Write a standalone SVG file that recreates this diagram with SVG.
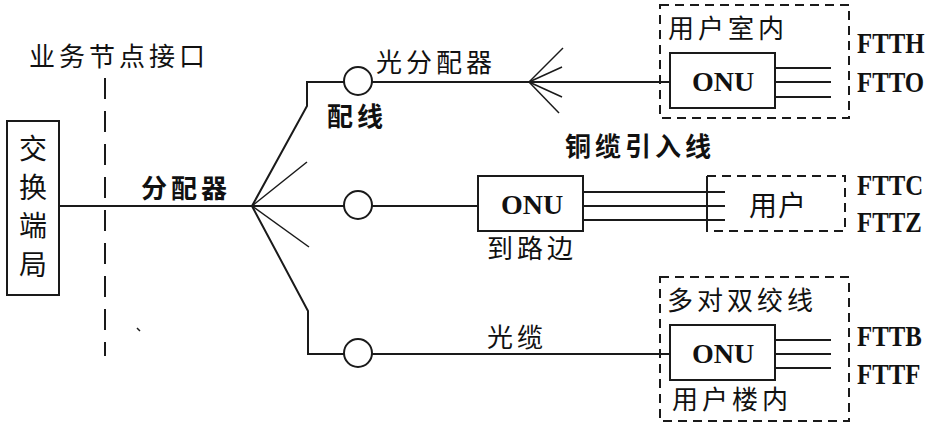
<svg xmlns="http://www.w3.org/2000/svg" width="933" height="429" viewBox="0 0 933 429">
<style>
.ln{stroke:#1a1a1a;stroke-width:2;fill:none}
.thin{stroke:#1a1a1a;stroke-width:1.5;fill:none}
.box{stroke:#1a1a1a;stroke-width:2;fill:#fff}
.dash{stroke:#1a1a1a;stroke-width:2;fill:none;stroke-dasharray:9 6}
.circ{stroke:#1a1a1a;stroke-width:2;fill:#fff}
.cjk{font-family:"Noto Sans CJK SC","Noto Sans",sans-serif;font-size:26px;letter-spacing:4px;fill:#111}
.b{font-weight:bold}
.lat{font-family:"Liberation Serif","Times New Roman",serif;font-weight:bold;fill:#111}
.ft{font-family:"Liberation Serif","Times New Roman",serif;font-weight:bold;fill:#111;font-size:27px}
</style>
<rect width="933" height="429" fill="#fff"/>
<g id="connectors">
<line class="ln" x1="105" y1="78" x2="105" y2="356" stroke-dasharray="21 12"/>
<line class="ln" x1="59" y1="206" x2="478" y2="206"/>
<polyline class="ln" points="252,206 307,106 307,82 670,82"/>
<polyline class="ln" points="252,206 308,311 308,354 670,354"/>
<line class="thin" x1="252" y1="206" x2="307" y2="162"/>
<line class="thin" x1="252" y1="206" x2="309" y2="247"/>
<line class="thin" x1="529" y1="82" x2="563" y2="48"/>
<line class="thin" x1="529" y1="82" x2="562" y2="67"/>
<line class="thin" x1="529" y1="82" x2="562" y2="97"/>
<line class="thin" x1="529" y1="82" x2="559" y2="113"/>
<line class="ln" x1="775" y1="68" x2="831" y2="68"/>
<line class="ln" x1="775" y1="82" x2="831" y2="82"/>
<line class="ln" x1="775" y1="97" x2="831" y2="97"/>
<line class="ln" x1="583" y1="192" x2="725" y2="192"/>
<line class="ln" x1="583" y1="206" x2="725" y2="206"/>
<line class="ln" x1="583" y1="220" x2="725" y2="220"/>
<line class="ln" x1="775" y1="340" x2="831" y2="340"/>
<line class="ln" x1="775" y1="354" x2="831" y2="354"/>
<line class="ln" x1="775" y1="368" x2="831" y2="368"/>
<line class="thin" x1="137" y1="328" x2="140" y2="331"/>
</g>
<g id="exchange">
<rect class="box" x="7" y="121" width="52" height="174"/>
<g class="cjk" style="letter-spacing:0;font-size:28px" text-anchor="middle">
<text x="33" y="159">交</text>
<text x="33" y="198">换</text>
<text x="33" y="236">端</text>
<text x="33" y="275">局</text>
</g>
</g>
<g id="circle-top"><circle class="circ" cx="358" cy="81" r="14"/></g>
<g id="circle-mid"><circle class="circ" cx="358" cy="205" r="14"/></g>
<g id="circle-bot"><circle class="circ" cx="358" cy="353" r="14"/></g>
<g id="home-zone">
<rect class="dash" x="660" y="5" width="189" height="113"/>
<text class="cjk" x="668" y="38">用户室内</text>
</g>
<g id="onu-top">
<rect class="box" x="670" y="53" width="105" height="55"/>
<text class="lat" x="723" y="91" font-size="28" text-anchor="middle">ONU</text>
</g>
<g id="onu-mid">
<rect class="box" x="478" y="176" width="105" height="55"/>
<text class="lat" x="532" y="214" font-size="28" text-anchor="middle">ONU</text>
</g>
<g id="user-zone">
<rect class="dash" x="707" y="176" width="138" height="55"/>
<line class="ln" x1="707" y1="176" x2="707" y2="231"/>
<text class="cjk" x="749" y="216" style="font-size:28px;letter-spacing:1px">用户</text>
</g>
<g id="building-zone">
<rect class="dash" x="660" y="277" width="189" height="144"/>
<text class="cjk" x="667" y="310">多对双绞线</text>
<text class="cjk" x="672" y="409">用户楼内</text>
</g>
<g id="onu-bot">
<rect class="box" x="670" y="325" width="105" height="55"/>
<text class="lat" x="723" y="363" font-size="28" text-anchor="middle">ONU</text>
</g>
<g id="labels">
<text class="cjk" x="29" y="66">业务节点接口</text>
<text class="cjk" x="376" y="72">光分配器</text>
<text class="cjk b" x="327" y="126">配线</text>
<text class="cjk b" x="141" y="198">分配器</text>
<text class="cjk b" x="565" y="156">铜缆引入线</text>
<text class="cjk" x="487" y="258">到路边</text>
<text class="cjk" x="487" y="347">光缆</text>
<text class="ft" transform="translate(857,53) scale(0.92,1.1)">FTTH</text>
<text class="ft" transform="translate(857,92) scale(0.92,1.1)">FTTO</text>
<text class="ft" transform="translate(857,195) scale(0.92,1.1)">FTTC</text>
<text class="ft" transform="translate(857,232) scale(0.92,1.1)">FTTZ</text>
<text class="ft" transform="translate(857,346) scale(0.92,1.1)">FTTB</text>
<text class="ft" transform="translate(857,384) scale(0.92,1.1)">FTTF</text>
</g>
</svg>
